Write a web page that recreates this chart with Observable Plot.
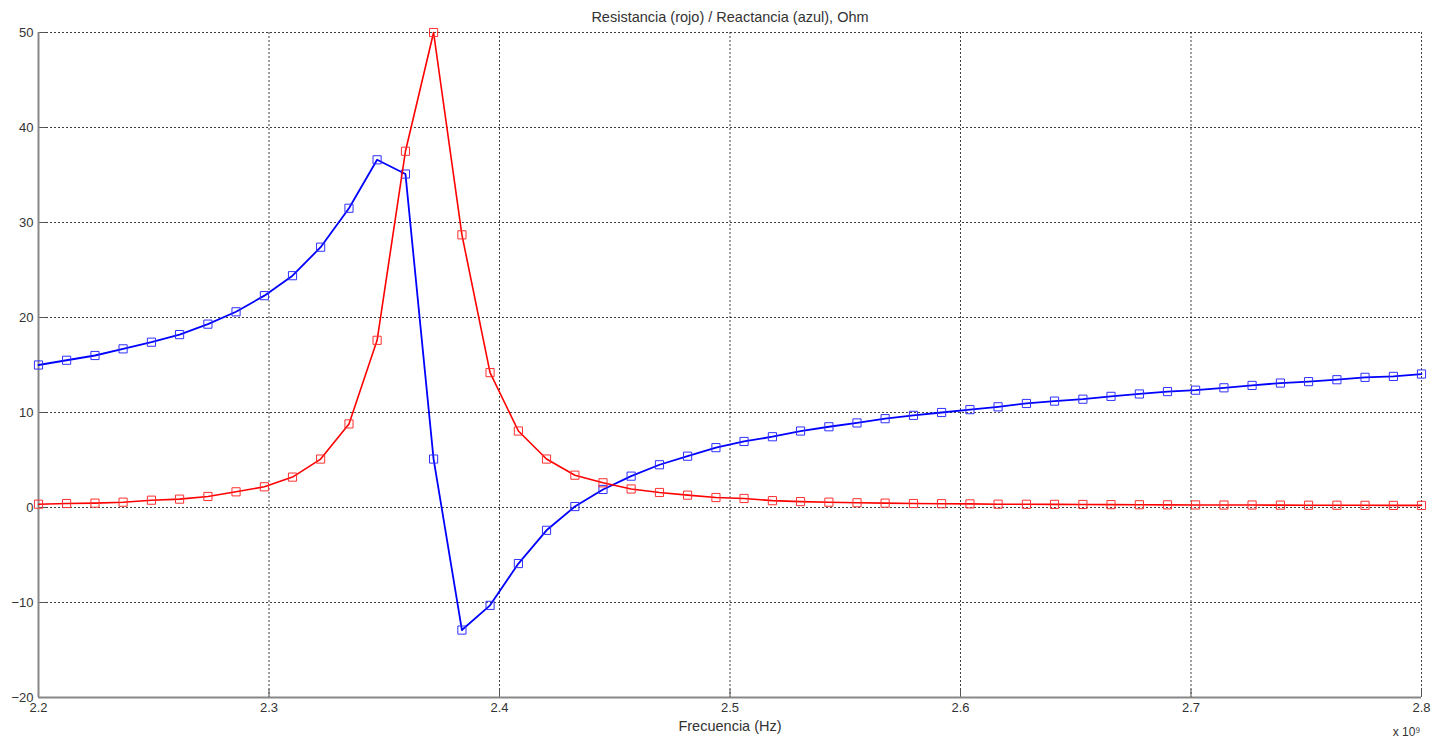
<!DOCTYPE html>
<html>
<head>
<meta charset="utf-8">
<script src="https://cdn.jsdelivr.net/npm/d3@7"></script>
<script src="https://cdn.jsdelivr.net/npm/@observablehq/plot@0.6"></script>
<style>
  html, body { margin: 0; padding: 0; background: #fff; }
  #chart svg { display: block; }
</style>
</head>
<body>
<div id="chart"></div>
<script>
// Frequency (x 10^9 Hz)
const frecuencia = [
  2.2, 2.2122, 2.2245, 2.2367, 2.2490, 2.2612, 2.2735, 2.2857, 2.2980, 2.3102,
  2.3224, 2.3347, 2.3469, 2.3592, 2.3714, 2.3837, 2.3959, 2.4082, 2.4204, 2.4327,
  2.4449, 2.4571, 2.4694, 2.4816, 2.4939, 2.5061, 2.5184, 2.5306, 2.5429, 2.5551,
  2.5673, 2.5796, 2.5918, 2.6041, 2.6163, 2.6286, 2.6408, 2.6531, 2.6653, 2.6776,
  2.6898, 2.7020, 2.7143, 2.7265, 2.7388, 2.7510, 2.7633, 2.7755, 2.7878, 2.8
];
// Resistance (red), Ohm
const resistencia = [
  0.35, 0.42, 0.46, 0.56, 0.77, 0.88, 1.16, 1.65, 2.18, 3.2,
  5.1, 8.8, 17.6, 37.5, 50.0, 28.7, 14.2, 8.05, 5.1, 3.4,
  2.6, 1.95, 1.58, 1.3, 1.05, 0.95, 0.72, 0.62, 0.56, 0.5,
  0.46, 0.42, 0.4, 0.38, 0.35, 0.34, 0.33, 0.32, 0.3, 0.29,
  0.28, 0.27, 0.26, 0.26, 0.25, 0.24, 0.24, 0.23, 0.22, 0.22
];
// Reactance (blue), Ohm
const reactancia = [
  15.0, 15.5, 16.0, 16.7, 17.4, 18.2, 19.3, 20.6, 22.3, 24.4,
  27.4, 31.5, 36.6, 35.1, 5.1, -12.9, -10.3, -5.9, -2.4, 0.1,
  1.9, 3.3, 4.5, 5.4, 6.3, 6.95, 7.45, 8.05, 8.5, 8.9,
  9.35, 9.7, 10.0, 10.3, 10.6, 10.95, 11.2, 11.4, 11.7, 11.95,
  12.2, 12.35, 12.6, 12.85, 13.1, 13.25, 13.45, 13.7, 13.8, 14.05
];
const xTicks = [2.2, 2.3, 2.4, 2.5, 2.6, 2.7, 2.8];
const yTicks = [-20, -10, 0, 10, 20, 30, 40, 50];
const titulo = "Resistancia (rojo) / Reactancia (azul), Ohm";
const etiquetaX = "Frecuencia (Hz)";
const exponente = "x 10\u2079";

const rData = frecuencia.map((f, i) => ({f, v: resistencia[i]}));
const xData = frecuencia.map((f, i) => ({f, v: reactancia[i]}));

const font = "'Liberation Sans', Arial, Helvetica, sans-serif";
const gridStyle = {stroke: "#000", strokeOpacity: 0.75, strokeDasharray: "2,2", strokeWidth: 1};

const chart = Plot.plot({
  width: 1434,
  height: 740,
  marginLeft: 38,
  marginRight: 13,
  marginTop: 32,
  marginBottom: 43,
  style: {fontFamily: font, fontSize: "13px", color: "#333", background: "#fff"},
  x: {domain: [2.2, 2.8], ticks: xTicks, tickFormat: d => d.toFixed(1)},
  y: {domain: [-20, 50], ticks: yTicks},
  marks: [
    Plot.gridX(xTicks, gridStyle),
    Plot.gridY(yTicks, gridStyle),
    Plot.axisX(xTicks, {tickSize: 0, tickPadding: 5, label: null, tickFormat: d => d.toFixed(1), fontSize: 13}),
    Plot.axisY(yTicks, {tickSize: 0, tickPadding: 5, label: null, fontSize: 13}),
    Plot.tickX(xTicks, {x: d => d, stroke: "#555", insetTop: 657, strokeWidth: 1}),
    Plot.tickY(yTicks, {y: d => d, stroke: "#555", insetRight: 1375, strokeWidth: 1}),
    Plot.ruleX([2.2], {stroke: "#888", strokeWidth: 2}),
    Plot.ruleY([-20], {stroke: "#888", strokeWidth: 2}),
    Plot.line(xData, {x: "f", y: "v", stroke: "#0000ff", strokeWidth: 1.8}),
    Plot.dot(xData, {x: "f", y: "v", symbol: "square", r: 4.6, stroke: "#3030ff", strokeWidth: 1, fill: "none"}),
    Plot.line(rData, {x: "f", y: "v", stroke: "#ff0000", strokeWidth: 1.6}),
    Plot.dot(rData, {x: "f", y: "v", symbol: "square", r: 4.6, stroke: "#ff3030", strokeWidth: 1, fill: "none"}),
    Plot.text([titulo], {text: d => d, frameAnchor: "top", dy: -21, fontSize: 14.5, fill: "#333"}),
    Plot.text([etiquetaX], {text: d => d, frameAnchor: "bottom", dy: 33, fontSize: 14.5, fill: "#333"}),
    Plot.text([exponente], {text: d => d, frameAnchor: "bottom-right", dy: 38, dx: -1, textAnchor: "end", fontSize: 12, fill: "#333"})
  ]
});
document.getElementById("chart").appendChild(chart);
</script>
</body>
</html>
